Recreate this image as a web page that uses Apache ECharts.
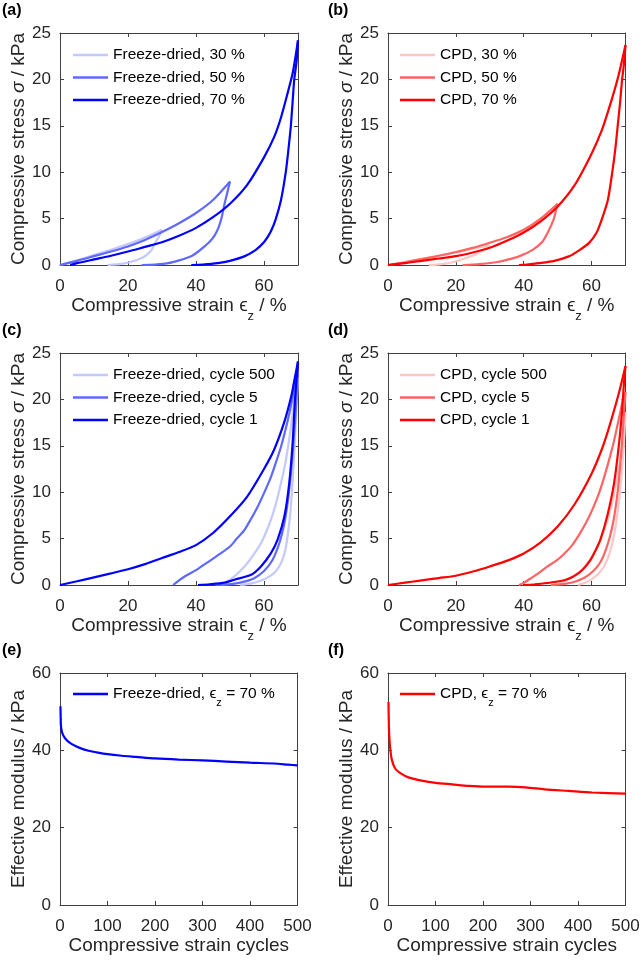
<!DOCTYPE html>
<html><head><meta charset="utf-8">
<script src="https://cdn.jsdelivr.net/npm/echarts@6/dist/echarts.min.js"></script>
<style>html,body{margin:0;padding:0;background:#fff}#c{width:640px;height:960px}</style>
</head><body><div id="c"></div>
<script>
// ---------- DATA ----------
// (a) Freeze-dried, different strain amplitudes  [strain %, stress kPa]
const fd30Load   = [[0,0],[5,0.5],[10,1.08],[15,1.65],[20,2.25],[25,2.95],[30,3.8]];
const fd30Unload = [[30,3.8],[29,3.0],[28,2.4],[27,1.65],[25.5,1.1],[24,0.75],[21,0.35],[18,0.12],[14,0]];
const fd50Load   = [[0,0],[5,0.45],[10,0.95],[15,1.45],[20,2.0],[25,2.7],[30,3.55],[35,4.5],[40,5.6],[45,7.0],[50,9.0]];
const fd50Unload = [[50,9.0],[49.2,7.8],[48.4,6.6],[47.6,5.2],[46.7,4.1],[45.5,3.2],[44,2.5],[42.5,2.0],[40.5,1.4],[38.6,0.95],[35,0.5],[31.8,0.2],[28,0.05],[24,0]];
const fd70Load   = [[3,0],[5,0.2],[10,0.6],[15,1.0],[20,1.45],[25,1.95],[30,2.45],[35,3.15],[40,4.0],[45,5.15],[50,6.6],[55,8.6],[60,11.6],[63,13.8],[65,15.9],[67,18.6],[68.5,20.8],[70,24.2]];
const fd70Unload = [[70,24.2],[69.6,22],[68.9,20],[68.4,17.5],[67.9,15],[67.2,12.5],[66.4,10],[65,7],[63.5,5],[62,3.6],[60.1,2.5],[57.5,1.6],[54.2,0.93],[50,0.45],[46.4,0.2],[42,0.05],[38.6,0]];
// (b) CPD, different strain amplitudes
const cpd30Load   = [[0,0],[5,0.3],[10,0.65],[15,1.0],[20,1.35],[25,1.75],[30,2.15]];
const cpd30Unload = [[30,2.15],[29,1.85],[27.8,1.55],[26.5,1.25],[24.9,1.0],[23,0.75],[21,0.5],[19,0.3],[17,0.15],[14.5,0.05],[12,0]];
const cpd50Load   = [[0,0],[5,0.3],[10,0.65],[15,1.0],[20,1.4],[25,1.85],[30,2.4],[35,3.0],[40,3.8],[45,5.0],[50,6.6]];
const cpd50Unload = [[50,6.6],[49.4,5.7],[48.9,5.0],[47.5,3.8],[45.5,2.5],[42.5,1.6],[38.6,0.93],[35,0.55],[31.8,0.3],[27,0.1],[22,0]];
const cpd70Load   = [[0,0],[5,0.2],[10,0.45],[15,0.7],[20,0.95],[25,1.35],[30,1.85],[35,2.6],[40,3.5],[45,4.7],[50,6.3],[55,8.6],[60,12.0],[63,14.5],[66,17.9],[68,20.5],[70,23.7]];
const cpd70Unload = [[70,23.7],[69.5,21.5],[69,20],[68.4,17.5],[67.7,15],[67,12.5],[66.1,10],[64.8,7],[63.1,5],[61.5,3.5],[59.2,2.36],[56,1.5],[53.3,0.93],[49,0.45],[44.5,0.2],[41,0.05],[38.6,0]];
// (c) Freeze-dried, cycles
const fdC500Load   = [[47.5,0],[49,0.3],[51.3,0.93],[53,1.5],[55.2,2.4],[57,3.3],[59.1,4.5],[60.5,5.6],[62,7.0],[63.3,8.5],[64.5,10.2],[65.5,11.8],[66.4,13.4],[67.2,15.2],[67.9,17],[68.6,19],[69.1,20.6],[69.6,21.8],[70,22.4]];
const fdC500Unload = [[70,22.4],[69.6,19.5],[69.2,16.5],[68.8,13.5],[68.3,10.5],[67.8,8],[67.2,6],[66.4,4],[65.3,2.6],[63.5,1.5],[61.5,0.9],[59,0.45],[56,0.15],[53,0]];
const fdC5Load   = [[33.3,0],[35,0.5],[37,1.0],[40,1.6],[42,2.1],[44.5,2.7],[47,3.35],[50,4.15],[52,5.0],[54.2,5.9],[56,7.0],[58.1,8.4],[60,9.9],[62,11.6],[63.5,13.2],[65,14.9],[66.3,16.7],[67.4,18.4],[68.3,20],[69.1,21.6],[70,23.2]];
const fdC5Unload = [[70,23.2],[69.6,20.5],[69.2,18],[68.6,15],[67.9,12],[67,9],[65.9,6.5],[64.5,4.5],[62.5,2.7],[60,1.5],[57,0.7],[53,0.25],[49,0.05],[46,0]];
const fdC1Load   = [[0,0],[5,0.4],[10,0.82],[15,1.25],[20,1.7],[25,2.25],[30,2.9],[35,3.55],[40,4.3],[45,5.6],[50,7.4],[55,9.5],[60,12.5],[63,14.6],[66,17.6],[68,20.3],[69,22.2],[70,24.1]];
const fdC1Unload = [[70,24.1],[69.1,19.9],[68.4,15.2],[67.4,10.9],[66.0,7.4],[64.0,4.9],[62.0,3.4],[59.1,2.0],[56.2,1.1],[51.3,0.57],[48.4,0.25],[44,0.08],[40.6,0]];
// (d) CPD, cycles
const cpdC500Load   = [[48.5,0],[50,0.15],[52,0.4],[54,0.8],[56,1.3],[58,2.0],[60,3.0],[61.5,4.0],[63,5.2],[64.3,6.5],[65.5,8],[66.5,9.6],[67.5,11.5],[68.3,13.2],[69,15],[69.5,16.8],[70,18.6]];
const cpdC500Unload = [[70,18.6],[69.7,16.5],[69.4,14.5],[69,12.5],[68.5,10.5],[67.9,8.5],[67.2,6.6],[66.3,4.8],[65.2,3.3],[63.8,2.1],[62,1.2],[60,0.6],[58,0.25],[56,0]];
const cpdC5Load   = [[38.6,0],[39.9,0.2],[42,0.7],[44.5,1.3],[47,2.0],[49.9,2.7],[52,3.4],[54.3,4.3],[56.3,5.4],[58.2,6.6],[60.2,8.1],[62.2,9.9],[63.7,11.6],[65.1,13.4],[66.4,15.2],[67.5,17],[68.4,18.5],[69.2,19.9],[70,20.8]];
const cpdC5Unload = [[70,20.8],[69.6,18.8],[69.2,16.5],[68.7,14],[68.1,11.5],[67.4,9.2],[66.5,7],[65.4,5.2],[64,3.6],[62.5,2.4],[60.5,1.5],[58,0.8],[55,0.35],[52,0.12],[48,0]];
const cpdC1Load   = [[0,0],[5,0.25],[10,0.5],[15,0.75],[20,1.0],[25,1.45],[30,2.0],[35,2.6],[40,3.4],[45,4.6],[50,6.3],[55,8.7],[60,12.0],[63,14.6],[65,16.8],[68,20.6],[70,23.6]];
const cpdC1Unload = [[70,23.6],[69.5,21.5],[69,18.8],[68,14.9],[66.6,10.9],[64.6,7.4],[62.6,4.9],[61,3.6],[59.7,2.7],[58,1.9],[56.3,1.3],[54.5,0.9],[52.4,0.57],[49.5,0.35],[46.5,0.2],[43,0.05],[40,0]];
// (e) Freeze-dried modulus vs cycles
const fdCycles  = [1,1.5,2,4,8,15,25,40,60,80,100,130,160,200,250,300,350,400,450,480,500];
const fdModulus = [51.4,48,46.3,44.8,43.6,42.5,41.6,40.7,39.9,39.4,39.0,38.6,38.3,37.9,37.6,37.4,37.1,36.8,36.6,36.3,36.1];
// (f) CPD modulus vs cycles
const cpdCycles  = [1,2,3,5,8,15,26,43,65,100,135,170,205,255,290,330,380,430,500];
const cpdModulus = [52.5,45.5,43,40.1,37.6,35.3,34.1,33.0,32.3,31.6,31.2,30.8,30.6,30.6,30.4,29.9,29.5,29.1,28.8];

// tick settings
const strainTicks = {min:0, max:70, interval:20};
const stressTicks = {min:0, max:25, interval:5};
const cycleTicks  = {min:0, max:500, interval:100};
const modTicks    = {min:0, max:60, interval:20};

// ---------- STYLE ----------
const FONT = '"Liberation Sans", Arial, Helvetica, sans-serif';
const TXT = '#262626';
const AXC = '#404040';
const BLUE = ['#c3c8ff', '#5f69ff', '#0000ff'];
const RED  = ['#ffc6c6', '#ff6464', '#ff0000'];

const zip = (xs, ys) => xs.map((x, i) => [x, ys[i]]);

const strainName = '{n|Compressive strain }{e|ϵ}{s|z}{n| / %}';
const stressName = '{n|Compressive stress }{i|σ}{n| / kPa}';
const nameRich = {
  n: {fontSize: 19, fontFamily: FONT, color: TXT},
  e: {fontSize: 19, fontFamily: FONT, color: TXT},
  i: {fontSize: 19, fontFamily: FONT, color: TXT, fontStyle: 'italic'},
  s: {fontSize: 13, fontFamily: FONT, color: TXT, padding: [21, 0, 0, 0]}
};

const gridPos = [
  {left: 60,  top: 33,  width: 238,   height: 232},
  {left: 388, top: 33,  width: 237.5, height: 232},
  {left: 60,  top: 353, width: 238,   height: 232},
  {left: 388, top: 353, width: 237.5, height: 232},
  {left: 60,  top: 673, width: 237.5, height: 232},
  {left: 388, top: 673, width: 237.5, height: 232}
];

const grid = gridPos.map(g => Object.assign({containLabel: false, outerBoundsMode: 'none'}, g));
const xAxis = [], yAxis = [];

function addAxes(g, xt, yt, xName, yName, xShowMax) {
  const lineCfg = {show: true, onZero: false, lineStyle: {color: AXC, width: 1}};
  const tickCfg = {show: true, inside: true, length: 4, lineStyle: {color: AXC, width: 1}};
  xAxis.push({type: 'value', gridIndex: g, position: 'bottom', min: xt.min, max: xt.max, interval: xt.interval,
    axisLine: lineCfg, axisTick: tickCfg, splitLine: {show: false},
    axisLabel: {show: true, color: TXT, fontSize: 17, fontFamily: FONT, margin: 13, showMaxLabel: xShowMax, showMinLabel: true, hideOverlap: false},
    name: xName, nameLocation: 'middle', nameGap: 24,
    nameTextStyle: {color: TXT, fontSize: 19, fontFamily: FONT, rich: nameRich}});
  xAxis.push({type: 'value', gridIndex: g, position: 'top', min: xt.min, max: xt.max, interval: xt.interval,
    axisLine: lineCfg, axisTick: tickCfg, splitLine: {show: false}, axisLabel: {show: false}});
  yAxis.push({type: 'value', gridIndex: g, position: 'left', min: yt.min, max: yt.max, interval: yt.interval,
    axisLine: lineCfg, axisTick: tickCfg, splitLine: {show: false},
    axisLabel: {show: true, color: TXT, fontSize: 17, fontFamily: FONT, margin: 9, showMaxLabel: true, showMinLabel: true, hideOverlap: false},
    name: yName, nameLocation: 'middle', nameGap: 30, nameRotate: 90,
    nameTextStyle: {color: TXT, fontSize: 19, fontFamily: FONT, rich: nameRich}});
  yAxis.push({type: 'value', gridIndex: g, position: 'right', min: yt.min, max: yt.max, interval: yt.interval,
    axisLine: lineCfg, axisTick: tickCfg, splitLine: {show: false}, axisLabel: {show: false}});
}

addAxes(0, strainTicks, stressTicks, strainName, stressName, false);
addAxes(1, strainTicks, stressTicks, strainName, stressName, false);
addAxes(2, strainTicks, stressTicks, strainName, stressName, false);
addAxes(3, strainTicks, stressTicks, strainName, stressName, false);
addAxes(4, cycleTicks, modTicks, '{n|Compressive strain cycles}', '{n|Effective modulus / kPa}', true);
addAxes(5, cycleTicks, modTicks, '{n|Compressive strain cycles}', '{n|Effective modulus / kPa}', true);

const series = [];
function addLine(g, name, data, color) {
  series.push({type: 'line', name: name, data: data, xAxisIndex: 2 * g, yAxisIndex: 2 * g,
    symbol: 'none', showSymbol: false, smooth: 0.25,
    lineStyle: {color: color, width: 2.2}, itemStyle: {color: color},
    emphasis: {disabled: true}, animation: false, clip: true});
}
const names = {
  a: ['Freeze-dried, 30 %', 'Freeze-dried, 50 %', 'Freeze-dried, 70 %'],
  b: ['CPD, 30 %', 'CPD, 50 %', 'CPD, 70 %'],
  c: ['Freeze-dried, cycle 500', 'Freeze-dried, cycle 5', 'Freeze-dried, cycle 1'],
  d: ['CPD, cycle 500', 'CPD, cycle 5', 'CPD, cycle 1'],
  e: ['Freeze-dried, εz = 70 %'],
  f: ['CPD, εz = 70 %']
};
[[fd30Load, fd30Unload], [fd50Load, fd50Unload], [fd70Load, fd70Unload]].forEach((p, i) => { addLine(0, names.a[i], p[0], BLUE[i]); addLine(0, names.a[i], p[1], BLUE[i]); });
[[cpd30Load, cpd30Unload], [cpd50Load, cpd50Unload], [cpd70Load, cpd70Unload]].forEach((p, i) => { addLine(1, names.b[i], p[0], RED[i]); addLine(1, names.b[i], p[1], RED[i]); });
[[fdC500Load, fdC500Unload], [fdC5Load, fdC5Unload], [fdC1Load, fdC1Unload]].forEach((p, i) => { addLine(2, names.c[i], p[0], BLUE[i]); addLine(2, names.c[i], p[1], BLUE[i]); });
[[cpdC500Load, cpdC500Unload], [cpdC5Load, cpdC5Unload], [cpdC1Load, cpdC1Unload]].forEach((p, i) => { addLine(3, names.d[i], p[0], RED[i]); addLine(3, names.d[i], p[1], RED[i]); });
addLine(4, names.e[0], zip(fdCycles, fdModulus), BLUE[2]);
addLine(5, names.f[0], zip(cpdCycles, cpdModulus), RED[2]);

const legendText = {color: '#000', fontSize: 15.5, fontFamily: FONT,
  rich: {
    n: {fontSize: 15.5, fontFamily: FONT, color: '#000'},
    e: {fontSize: 15.5, fontFamily: FONT, color: '#000'},
    s: {fontSize: 11, fontFamily: FONT, color: '#000', padding: [17, 0, 0, 0]}
  }};
function mkLegend(data, left, top, fmt) {
  const l = {data: data.map(n => ({name: n, icon: 'rect'})), orient: 'vertical', left: left, top: top,
    itemWidth: 35, itemHeight: 2.6, itemGap: 6.5,
    padding: 0, selectedMode: false, textStyle: legendText, backgroundColor: 'transparent'};
  if (fmt) l.formatter = fmt;
  return l;
}
const epsFmt = function (name) { const parts = name.split('εz'); return '{n|' + parts[0] + '}{e|ϵ}{s|z}{n|' + parts[1] + '}'; };
const legend = [
  mkLegend(names.a, 73, 47),
  mkLegend(names.b, 400, 47),
  mkLegend(names.c, 73, 367),
  mkLegend(names.d, 400, 367),
  mkLegend(names.e, 73, 686, epsFmt),
  mkLegend(names.f, 400, 686, epsFmt)
];

const panelLabels = [['(a)', 2, 3], ['(b)', 328, 3], ['(c)', 2, 323], ['(d)', 328, 323], ['(e)', 2, 643], ['(f)', 328, 643]];
const graphic = panelLabels.map(p => ({type: 'text', left: p[1], top: p[2],
  style: {text: p[0], font: 'bold 16px ' + FONT, fill: '#000'}}));

const option = {
  backgroundColor: '#ffffff',
  animation: false,
  grid: grid, xAxis: xAxis, yAxis: yAxis, series: series, legend: legend, graphic: graphic
};
const chart = echarts.init(document.getElementById('c'), null, {renderer: 'canvas'});
chart.setOption(option);
</script></body></html>
